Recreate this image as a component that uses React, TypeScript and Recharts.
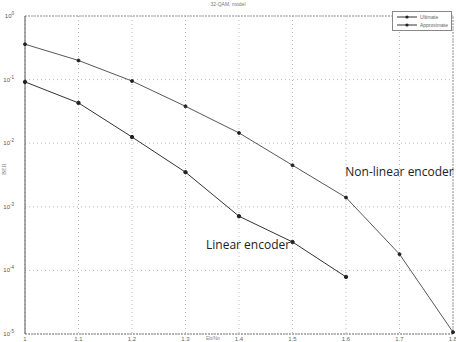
import { CartesianGrid, Line, LineChart, ReferenceDot, ReferenceLine, XAxis, YAxis } from "recharts"

const xValues = [1, 1.1, 1.2, 1.3, 1.4, 1.5, 1.6, 1.7, 1.8]
const nonLinear = [0.36, 0.2, 0.095, 0.038, 0.0145, 0.0045, 0.0014, 0.00018, 0.0000107]
const linear = [0.092, 0.043, 0.0125, 0.0035, 0.00071, 0.00028, 0.000079]
const xTicks = [1, 1.1, 1.2, 1.3, 1.4, 1.5, 1.6, 1.7, 1.8]
const yTicks = [1, 0.1, 0.01, 0.001, 0.0001, 0.00001]
const legendNames = ["Ultimate", "Approximate"]

const chartData = xValues.map((x, i) => ({
  x,
  nonLinear: nonLinear[i],
  linear: i < linear.length ? linear[i] : undefined,
}))

const font = "Liberation Sans, Arial, sans-serif"

function YTick(props: any) {
  const { x, y, payload } = props
  const exp = Math.round(Math.log10(payload.value))
  return (
    <text x={x - 3} y={y + 2} textAnchor="end" fontSize={6} fill="#555" fontFamily={font}>
      10
      <tspan dy={-3} fontSize={4.5}>
        {exp}
      </tspan>
    </text>
  )
}

// text annotation placed at a data point
function note(text: string) {
  return (p: any) => (
    <text
      x={p.cx}
      y={p.cy + 4}
      textAnchor="middle"
      fontSize={12}
      fill="#222"
      fontFamily="Open Sans, sans-serif"
    >
      {text}
    </text>
  )
}

function LegendBox() {
  return (
    <div
      style={{
        position: "absolute",
        top: 11,
        right: 4,
        border: "1px solid #888",
        background: "#fff",
        padding: "1px 3px",
        fontFamily: font,
        fontSize: 5,
        color: "#666",
        lineHeight: "8px",
      }}
    >
      {legendNames.map((name) => (
        <div key={name} style={{ display: "flex", alignItems: "center" }}>
          <svg width={22} height={6}>
            <line x1={1} y1={3} x2={21} y2={3} stroke="#333" strokeWidth={1} />
            <circle cx={11} cy={3} r={1.6} fill="#222" />
          </svg>
          <span style={{ marginLeft: 2 }}>{name}</span>
        </div>
      ))}
    </div>
  )
}

export default function App() {
  return (
    <div style={{ position: "absolute", left: 0, top: 0, width: 456, height: 342, background: "#fff" }}>
      <div
        style={{
          position: "absolute",
          left: 0,
          width: 456,
          top: 1,
          textAlign: "center",
          fontFamily: font,
          fontSize: 5,
          color: "#777",
        }}
      >
        32-QAM, model
      </div>
      <LineChart width={456} height={342} data={chartData} margin={{ top: 16, right: 3, bottom: 0, left: 0 }}>
        <CartesianGrid stroke="#bbb" strokeDasharray="1 3" />
        <XAxis
          dataKey="x"
          type="number"
          domain={[1, 1.8]}
          ticks={xTicks}
          height={8}
          interval={0}
          tick={{ fontSize: 6, fill: "#666", fontFamily: font }}
          tickLine={false}
          tickSize={1}
          axisLine={{ stroke: "#777", strokeDasharray: "2 1" }}
        />
        <YAxis
          scale="log"
          domain={[0.00001, 1]}
          ticks={yTicks}
          allowDataOverflow
          width={25}
          interval={0}
          tick={<YTick />}
          tickLine={false}
          axisLine={{ stroke: "#555" }}
          label={{ value: "BER", angle: -90, position: "insideLeft", offset: 4, fontSize: 6, fill: "#777" }}
        />
        <ReferenceLine y={1} stroke="#999" strokeDasharray="2 1" />
        <ReferenceLine x={1.8} stroke="#999" strokeDasharray="2 1" />
        <Line
          dataKey="nonLinear"
          name="Non-linear encoder"
          stroke="#444"
          strokeWidth={0.9}
          dot={{ r: 1.5, fill: "#222", stroke: "#222" }}
          isAnimationActive={false}
        />
        <Line
          dataKey="linear"
          name="Linear encoder"
          stroke="#333"
          strokeWidth={1}
          dot={{ r: 1.7, fill: "#222", stroke: "#222" }}
          isAnimationActive={false}
        />
        <ReferenceDot x={1.7} y={0.0035} r={0} shape={note("Non-linear encoder")} />
        <ReferenceDot x={1.417} y={0.00025} r={0} shape={note("Linear encoder")} />
      </LineChart>
      <div
        style={{
          position: "absolute",
          left: 206,
          top: 335,
          fontFamily: font,
          fontSize: 5,
          color: "#888",
          lineHeight: "6px",
        }}
      >
        Eb/No
      </div>
      <LegendBox />
    </div>
  )
}
